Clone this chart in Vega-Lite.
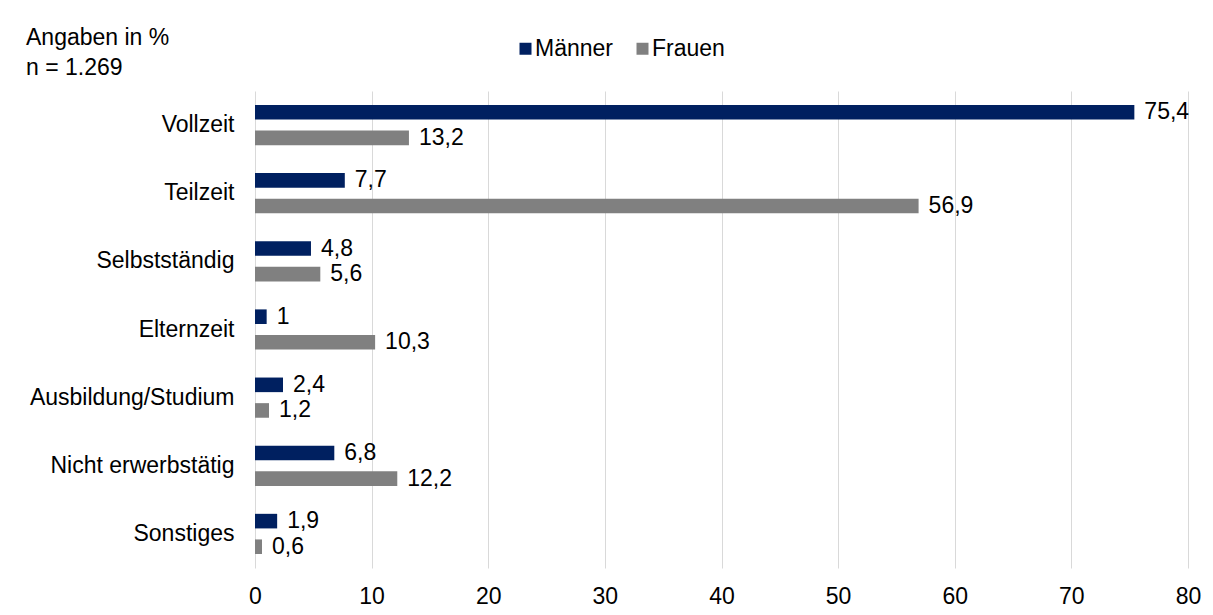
{
  "$schema": "https://vega.github.io/schema/vega-lite/v6.json",
  "width": 933,
  "height": 477,
  "autosize": {"type": "none"},
  "padding": {"left": 255, "top": 91, "right": 25, "bottom": 47},
  "background": "white",
  "config": {
    "locale": {"number": {"decimal": ",", "thousands": ".", "grouping": [3], "currency": ["", " €"]}},
    "font": "Liberation Sans",
    "view": {"stroke": null}
  },
  "title": {
    "text": ["Angaben in %", "n = 1.269"],
    "anchor": "start",
    "frame": "group",
    "dx": -229,
    "dy": 57,
    "offset": 14,
    "fontSize": 23,
    "fontWeight": "normal",
    "font": "Liberation Sans",
    "color": "black",
    "lineHeight": 30
  },
  "data": {
    "values": [
      {"Kategorie": "Vollzeit", "Geschlecht": "Männer", "Wert": 75.4},
      {"Kategorie": "Vollzeit", "Geschlecht": "Frauen", "Wert": 13.2},
      {"Kategorie": "Teilzeit", "Geschlecht": "Männer", "Wert": 7.7},
      {"Kategorie": "Teilzeit", "Geschlecht": "Frauen", "Wert": 56.9},
      {"Kategorie": "Selbstständig", "Geschlecht": "Männer", "Wert": 4.8},
      {"Kategorie": "Selbstständig", "Geschlecht": "Frauen", "Wert": 5.6},
      {"Kategorie": "Elternzeit", "Geschlecht": "Männer", "Wert": 1},
      {"Kategorie": "Elternzeit", "Geschlecht": "Frauen", "Wert": 10.3},
      {"Kategorie": "Ausbildung/Studium", "Geschlecht": "Männer", "Wert": 2.4},
      {"Kategorie": "Ausbildung/Studium", "Geschlecht": "Frauen", "Wert": 1.2},
      {"Kategorie": "Nicht erwerbstätig", "Geschlecht": "Männer", "Wert": 6.8},
      {"Kategorie": "Nicht erwerbstätig", "Geschlecht": "Frauen", "Wert": 12.2},
      {"Kategorie": "Sonstiges", "Geschlecht": "Männer", "Wert": 1.9},
      {"Kategorie": "Sonstiges", "Geschlecht": "Frauen", "Wert": 0.6}
    ]
  },
  "encoding": {
    "y": {
      "field": "Kategorie",
      "type": "nominal",
      "sort": ["Vollzeit", "Teilzeit", "Selbstständig", "Elternzeit", "Ausbildung/Studium", "Nicht erwerbstätig", "Sonstiges"],
      "scale": {"paddingInner": 0.41, "paddingOuter": 0.205},
      "axis": {"title": null, "domain": false, "ticks": false, "labelFontSize": 23, "labelColor": "black", "labelPadding": 21, "labelLimit": 300, "labelFont": "Liberation Sans"}
    },
    "yOffset": {
      "field": "Geschlecht",
      "type": "nominal",
      "sort": ["Männer", "Frauen"],
      "scale": {"paddingInner": 0.43, "paddingOuter": 0}
    },
    "x": {
      "field": "Wert",
      "type": "quantitative",
      "scale": {"domain": [0, 80], "nice": false},
      "axis": {"title": null, "values": [0, 10, 20, 30, 40, 50, 60, 70, 80], "domain": false, "ticks": false, "grid": true, "gridColor": "#d9d9d9", "gridWidth": 1, "labelFontSize": 23, "labelPadding": 17, "labelColor": "black", "labelFlush": false, "labelFont": "Liberation Sans"}
    }
  },
  "layer": [
    {
      "mark": {"type": "bar"},
      "encoding": {
        "color": {
          "field": "Geschlecht",
          "type": "nominal",
          "scale": {"domain": ["Männer", "Frauen"], "range": ["#002060", "#808080"]},
          "legend": {
            "title": null,
            "orient": "none",
            "legendX": 259,
            "legendY": -54,
            "direction": "horizontal",
            "symbolType": "square",
            "symbolSize": 144,
            "symbolStrokeWidth": 0,
            "labelFontSize": 23,
            "labelFont": "Liberation Sans",
            "labelColor": "black",
            "labelOffset": -2,
            "columnPadding": 18
          }
        }
      }
    },
    {
      "mark": {"type": "text", "align": "left", "baseline": "middle", "dx": 10, "fontSize": 23, "font": "Liberation Sans", "color": "black"},
      "encoding": {
        "text": {"field": "Wert", "type": "quantitative", "format": ".1~f"}
      }
    }
  ]
}
